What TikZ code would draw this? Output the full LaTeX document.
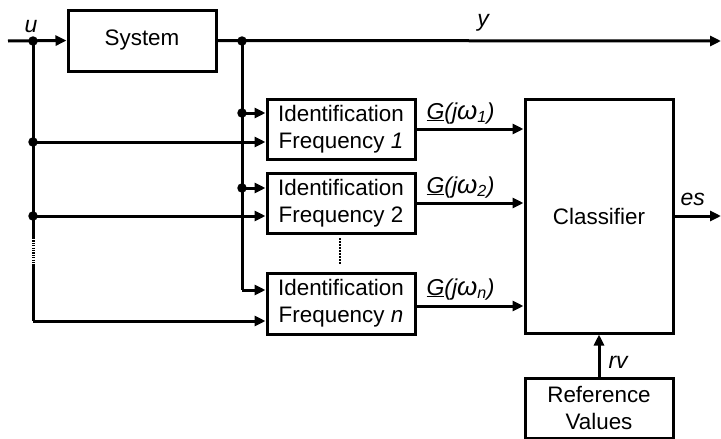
\documentclass[tikz,border=0pt]{standalone}
\usepackage{fontspec}
\setmainfont{Liberation Sans}
\usetikzlibrary{arrows.meta}
\begin{document}
\begin{tikzpicture}[x=1pt,y=-1pt,
  line width=3pt,
  box/.style={draw,line width=3pt,minimum width=148pt,align=center,inner sep=0pt,font=\fontsize{22.4}{27}\selectfont},
  arr/.style={-{Triangle[length=11pt,width=10pt]}},
  dot/.style={circle,fill,inner sep=0pt,minimum size=9.5pt},
  lbl/.style={font=\fontsize{23}{25}\selectfont\itshape,inner sep=0pt}]
\useasboundingbox (0,0) rectangle (721,439);
% boxes
\node[box,minimum height=61pt] (sys) at (142,40.5) {System};
\node[box,minimum height=60pt] (id1) at (341,129) {Identification\\Frequency \textit{1}};
\node[box,minimum height=60pt] (id2) at (341,203) {Identification\\Frequency 2};
\node[box,minimum height=61pt] (idn) at (341,303.5) {Identification\\Frequency \textit{n}};
\node[box,minimum height=234pt] (cls) at (599,216) {Classifier};
\node[box,minimum height=60pt] (ref) at (599,408) {Reference\\Values};
% junctions
\coordinate (in) at (8,41);
\coordinate (out) at (721,41);
\node[dot] (ju) at (33,41) {};
\node[dot] (jy) at (242,41) {};
\node[dot] (ju1) at (33,142) {};
\node[dot] (ju2) at (33,216) {};
\node[dot] (jy1) at (242,113) {};
\node[dot] (jy2) at (242,188) {};
\coordinate (jyn) at (242,290);
\coordinate (jun) at (33,321);
\coordinate (d1) at (33,238);
\coordinate (d2) at (33,265);
\coordinate (es) at (721,216);
\coordinate (o1) at (415,129);
\coordinate (o2) at (415,203);
\coordinate (on) at (415,306);
% input / output
\draw[arr] (in) -- (sys.west);
\draw[arr] (sys.east) -- (out);
% left vertical (u)
\draw (ju.center) -- (d1);
\draw[dash pattern=on 1.2pt off 1.2pt] (d1) -- (d2);
\draw (d2) -- (jun);
\draw[arr] (jun) -- (idn.west |- jun);
\draw[arr] (ju1.center) -- (id1.west |- ju1);
\draw[arr] (ju2.center) -- (id2.west |- ju2);
% right vertical (y)
\draw (jy.center) -- (jyn);
\draw[arr] (jyn) -- (idn.west |- jyn);
\draw[arr] (jy1.center) -- (id1.west |- jy1);
\draw[arr] (jy2.center) -- (id2.west |- jy2);
% dotted between id2 and idn
\coordinate (vd1) at (340,238);
\coordinate (vd2) at (340,265);
\draw[line width=2pt,dash pattern=on 1.5pt off 1.5pt] (vd1) -- (vd2);
% outputs to classifier
\draw[arr] (o1) -- (cls.west |- o1);
\draw[arr] (o2) -- (cls.west |- o2);
\draw[arr] (on) -- (cls.west |- on);
\draw[arr] (cls.east |- es) -- (es);
\draw[arr] (ref.north) -- (cls.south);
% labels
\node[lbl,anchor=base] (lu) at (31,32) {u};
\node[lbl,anchor=base] (ly) at (483,27) {y};
\node[lbl,anchor=base west] (les) at (679,205) {es};
\node[lbl,anchor=base west] (lrv) at (607,368) {rv};
\node[lbl,anchor=base west] (g1) at (425,119) {\underline{G}(j{\fontsize{26}{26}\selectfont ω}\textsubscript{1})};
\node[lbl,anchor=base west] (g2) at (425,193) {\underline{G}(j{\fontsize{26}{26}\selectfont ω}\textsubscript{2})};
\node[lbl,anchor=base west] (gn) at (425,295) {\underline{G}(j{\fontsize{26}{26}\selectfont ω}\textsubscript{n})};
\end{tikzpicture}
\end{document}
